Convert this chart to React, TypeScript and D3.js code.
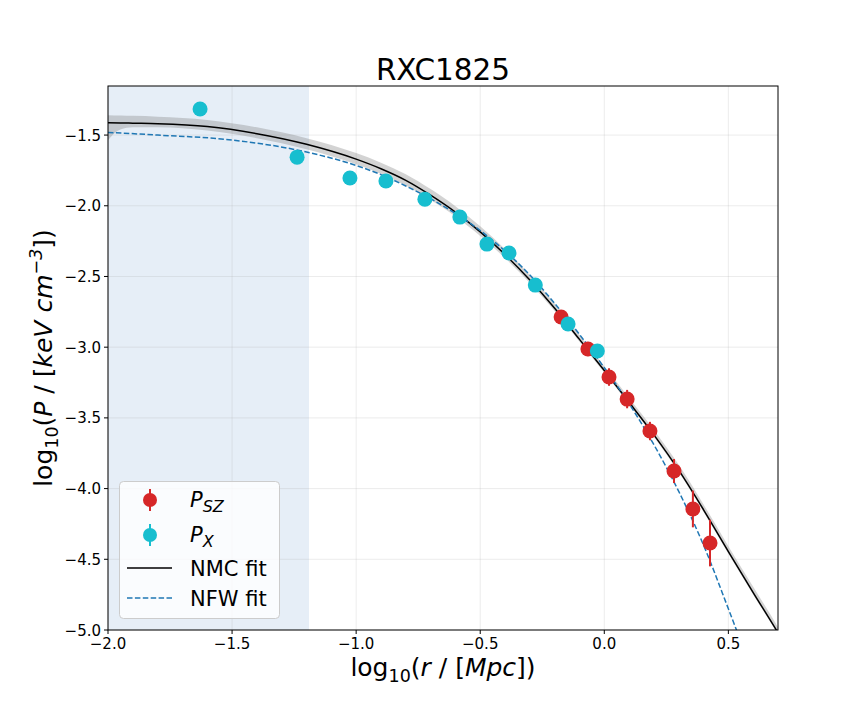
import React from 'react';
import * as d3 from 'd3';

// SZ pressure points (log10 r, log10 P, error)
const szR = [-0.174, -0.066, 0.019, 0.092, 0.184, 0.281, 0.357, 0.426];
const szP = [-2.787, -3.013, -3.211, -3.367, -3.593, -3.876, -4.144, -4.385];
const szErr = [0.03, 0.05, 0.062, 0.065, 0.065, 0.085, 0.13, 0.165];

// X-ray pressure points
const xrR = [-1.629, -1.238, -1.025, -0.88, -0.723, -0.582, -0.473, -0.384, -0.278, -0.146, -0.028];
const xrP = [-1.316, -1.656, -1.804, -1.825, -1.953, -2.08, -2.271, -2.334, -2.561, -2.836, -3.027];
const xrErr = [0.02, 0.02, 0.02, 0.02, 0.02, 0.02, 0.02, 0.02, 0.02, 0.02, 0.02];

// NMC fit, with its band
const nmcR = [-2.0, -1.95, -1.9, -1.8, -1.6, -1.4, -1.2, -1.0, -0.9, -0.8, -0.7, -0.6, -0.5, -0.4, -0.3, -0.2, -0.1, 0.0, 0.1, 0.2, 0.3, 0.4, 0.5, 0.6, 0.7, 0.72];
const nmcP = [-1.413, -1.414, -1.416, -1.42, -1.44, -1.49, -1.565, -1.67, -1.738, -1.82, -1.925, -2.045, -2.185, -2.345, -2.525, -2.725, -2.945, -3.165, -3.39, -3.62, -3.87, -4.15, -4.445, -4.735, -5.02, -5.08];
const nmcHi = [-1.36, -1.362, -1.364, -1.37, -1.393, -1.445, -1.522, -1.627, -1.695, -1.777, -1.882, -2.003, -2.145, -2.307, -2.489, -2.691, -2.913, -3.135, -3.36, -3.586, -3.832, -4.112, -4.407, -4.695, -4.98, -5.04];
const nmcLo = [-1.535, -1.46, -1.445, -1.445, -1.468, -1.522, -1.6, -1.707, -1.775, -1.857, -1.96, -2.075, -2.213, -2.37, -2.547, -2.745, -2.961, -3.18, -3.405, -3.635, -3.885, -4.165, -4.46, -4.75, -5.035, -5.1];

// NFW fit
const nfwR = [-2.0, -1.8, -1.5, -1.2, -1.0, -0.9, -0.8, -0.7, -0.6, -0.5, -0.4, -0.3, -0.2, -0.1, 0.0, 0.1, 0.2, 0.3, 0.4, 0.5, 0.55];
const nfwP = [-1.481, -1.5, -1.535, -1.62, -1.715, -1.78, -1.86, -1.95, -2.055, -2.175, -2.32, -2.49, -2.69, -2.91, -3.145, -3.4, -3.69, -4.02, -4.4, -4.85, -5.08];

const xTicks = [-2.0, -1.5, -1.0, -0.5, 0.0, 0.5];
const yTicks = [-5.0, -4.5, -4.0, -3.5, -3.0, -2.5, -2.0, -1.5];
const shadeMax = -1.19;

const RED = '#d62728';
const CYAN = '#17becf';
const BLUE = '#1f77b4';
const FONT = 'DejaVu Sans, sans-serif';

const fmt = (v: number) => v.toFixed(1).replace('-', '\u2212');

export default function App() {
  const L = 108, R = 778, T = 86, B = 630;
  const x = d3.scaleLinear().domain([-2.0, 0.7]).range([L, R]);
  const y = d3.scaleLinear().domain([-5.0, -1.153]).range([B, T]);

  const nmcLine = d3.line<number>().x((d) => x(d)).y((_, i) => y(nmcP[i])).curve(d3.curveMonotoneX)(nmcR) || '';
  const nfwLine = d3.line<number>().x((d) => x(d)).y((_, i) => y(nfwP[i])).curve(d3.curveMonotoneX)(nfwR) || '';
  const band = d3.area<number>()
    .x((d) => x(d))
    .y0((_, i) => y(nmcLo[i]))
    .y1((_, i) => y(nmcHi[i]))
    .curve(d3.curveMonotoneX)(nmcR) || '';

  const lx = 150;
  const rows = [500, 535, 568, 598];

  return (
    <svg width={864} height={720} style={{ position: 'absolute', left: 0, top: 0, background: '#fff' }}
      fontFamily={FONT}>
      <defs>
        <clipPath id="plot">
          <rect x={L} y={T} width={R - L} height={B - T} />
        </clipPath>
      </defs>
      <rect x={0} y={0} width={864} height={720} fill="#fff" />

      {/* shaded inner region */}
      <rect x={x(-2.0)} y={T} width={x(shadeMax) - x(-2.0)} height={B - T} fill="#3c78c0" fillOpacity={0.13} />

      {/* grid */}
      {xTicks.map((t) => (
        <line key={'gx' + t} x1={x(t)} x2={x(t)} y1={T} y2={B} stroke="#b0b0b0" strokeOpacity={0.3} strokeWidth={0.8} />
      ))}
      {yTicks.map((t) => (
        <line key={'gy' + t} x1={L} x2={R} y1={y(t)} y2={y(t)} stroke="#b0b0b0" strokeOpacity={0.3} strokeWidth={0.8} />
      ))}

      <g clipPath="url(#plot)">
        <path d={band} fill="#808080" fillOpacity={0.35} />
        <path d={nmcLine} fill="none" stroke="#000" strokeWidth={1.5} />
        <path d={nfwLine} fill="none" stroke={BLUE} strokeWidth={1.5} strokeDasharray="5.5,2.4" />

        {szR.map((r, i) => (
          <g key={'sz' + i}>
            <line x1={x(r)} x2={x(r)} y1={y(szP[i] - szErr[i])} y2={y(szP[i] + szErr[i])} stroke={RED} strokeWidth={2} />
            <circle cx={x(r)} cy={y(szP[i])} r={7.5} fill={RED} />
          </g>
        ))}
        {xrR.map((r, i) => (
          <g key={'xr' + i}>
            <line x1={x(r)} x2={x(r)} y1={y(xrP[i] - xrErr[i])} y2={y(xrP[i] + xrErr[i])} stroke={CYAN} strokeWidth={2} />
            <circle cx={x(r)} cy={y(xrP[i])} r={7.5} fill={CYAN} />
          </g>
        ))}
      </g>

      {/* frame */}
      <rect x={L} y={T} width={R - L} height={B - T} fill="none" stroke="#000" strokeWidth={1} />

      {/* ticks */}
      {xTicks.map((t) => (
        <g key={'tx' + t}>
          <line x1={x(t)} x2={x(t)} y1={B} y2={B + 4} stroke="#000" />
          <text x={x(t)} y={B + 19} textAnchor="middle" fontSize={15}>{fmt(t)}</text>
        </g>
      ))}
      {yTicks.map((t) => (
        <g key={'ty' + t}>
          <line x1={L - 4} x2={L} y1={y(t)} y2={y(t)} stroke="#000" />
          <text x={L - 7} y={y(t) + 5.5} textAnchor="end" fontSize={15}>{fmt(t)}</text>
        </g>
      ))}

      {/* title */}
      <text x={(L + R) / 2} y={80} textAnchor="middle" fontSize={29.5}>RXC1825</text>

      {/* x label */}
      <text x={(L + R) / 2} y={676} textAnchor="middle" fontSize={25}>
        log<tspan fontSize={17.5} dy={6}>10</tspan>
        <tspan dy={-6}>(</tspan>
        <tspan fontStyle="italic">r</tspan> / [<tspan fontStyle="italic">Mpc</tspan>])
      </text>

      {/* y label */}
      <text transform={`translate(52,${(T + B) / 2}) rotate(-90)`} textAnchor="middle" fontSize={25}>
        log<tspan fontSize={17.5} dy={6}>10</tspan>
        <tspan dy={-6}>(</tspan>
        <tspan fontStyle="italic">P</tspan> / [<tspan fontStyle="italic">keV cm</tspan>
        <tspan fontSize={17.5} fontStyle="italic" dy={-10}>{'\u22123'}</tspan>
        <tspan dy={10}>])</tspan>
      </text>

      {/* legend */}
      <rect x={119.5} y={481.5} width={160} height={137} rx={4} fill="#fff" fillOpacity={0.8} stroke="#cccccc" />
      <line x1={lx} x2={lx} y1={rows[0] - 11} y2={rows[0] + 11} stroke={RED} strokeWidth={2} />
      <circle cx={lx} cy={rows[0]} r={7} fill={RED} />
      <text x={190} y={rows[0] + 7} fontSize={21}>
        <tspan fontStyle="italic">P</tspan>
        <tspan fontStyle="italic" fontSize={16} dy={5}>SZ</tspan>
      </text>
      <line x1={lx} x2={lx} y1={rows[1] - 11} y2={rows[1] + 11} stroke={CYAN} strokeWidth={2} />
      <circle cx={lx} cy={rows[1]} r={7} fill={CYAN} />
      <text x={190} y={rows[1] + 7} fontSize={21}>
        <tspan fontStyle="italic">P</tspan>
        <tspan fontStyle="italic" fontSize={16} dy={5}>X</tspan>
      </text>
      <line x1={127} x2={172} y1={rows[2]} y2={rows[2]} stroke="#000" strokeWidth={1.5} />
      <text x={190} y={rows[2] + 7.5} fontSize={21}>NMC fit</text>
      <line x1={127} x2={172} y1={rows[3]} y2={rows[3]} stroke={BLUE} strokeWidth={1.5} strokeDasharray="5.5,2.4" />
      <text x={190} y={rows[3] + 7.5} fontSize={21}>NFW fit</text>
    </svg>
  );
}
